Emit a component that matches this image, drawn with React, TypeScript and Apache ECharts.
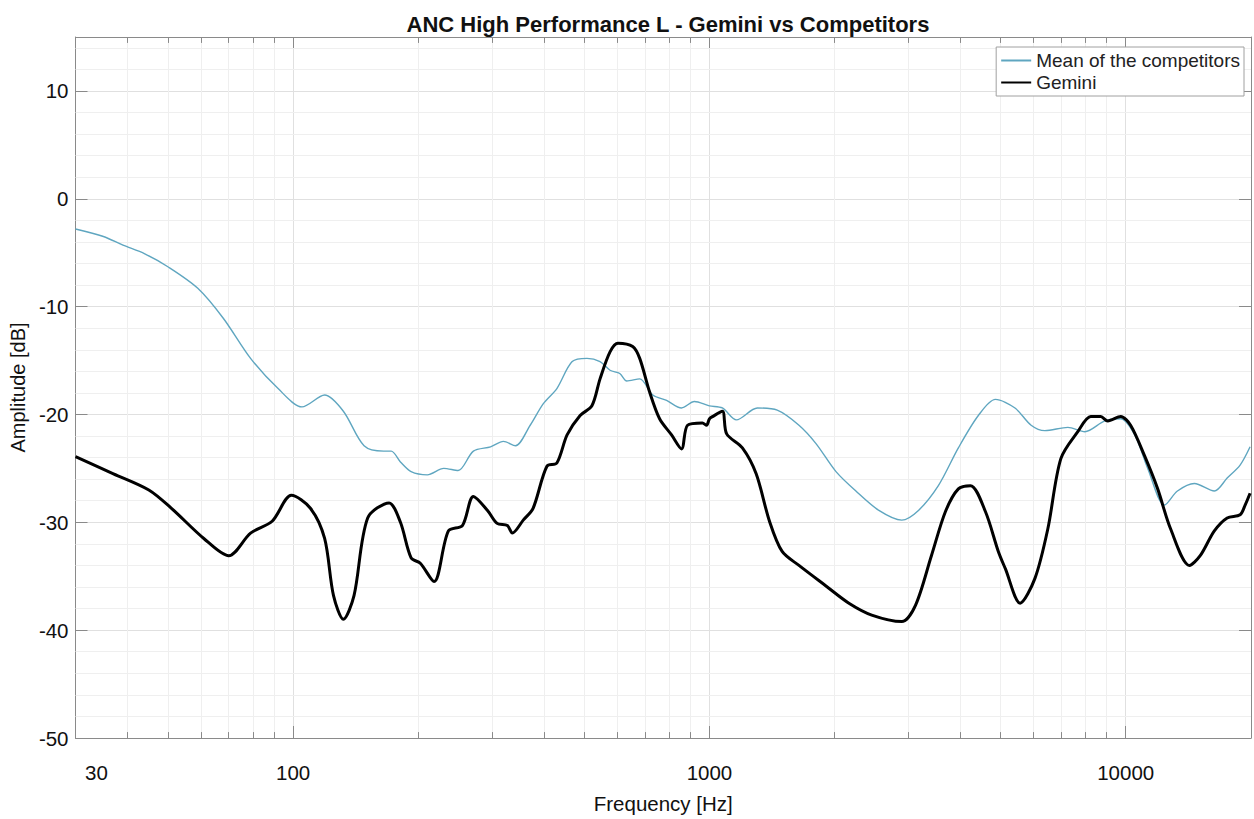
import React, { useEffect, useRef } from "react";
import * as echarts from "echarts";

const titleText = "ANC High Performance L - Gemini vs Competitors";
const seriesNames = ["Mean of the competitors", "Gemini"];
const xTickLabels = [30, 100, 1000, 10000];

const meanFreq = [30, 35, 39, 44, 50, 59, 68, 79, 92, 105, 119, 132, 148, 165, 172, 181, 192, 210, 230, 249, 271, 298, 320, 342, 371, 399, 430, 468, 508, 546, 577, 609, 633, 680, 731, 789, 857, 920, 1000, 1074, 1161, 1303, 1455, 1641, 1803, 2014, 2248, 2553, 2897, 3178, 3548, 3963, 4426, 4864, 5421, 5926, 6397, 7262, 7980, 8909, 9728, 10514, 11297, 12393, 13314, 14622, 16330, 17530, 18830, 19900];
const meanDb = [-2.8, -3.5, -4.3, -5.1, -6.3, -8.3, -11.1, -14.8, -17.6, -19.3, -18.2, -19.7, -22.9, -23.4, -23.4, -24.4, -25.3, -25.6, -25.0, -25.2, -23.4, -23.0, -22.5, -22.9, -21.0, -19.0, -17.6, -15.1, -14.8, -15.1, -15.9, -16.2, -16.9, -16.7, -18.2, -18.7, -19.4, -18.8, -19.2, -19.4, -20.5, -19.4, -19.6, -21.0, -22.7, -25.3, -27.1, -28.9, -29.8, -28.9, -26.6, -23.1, -20.1, -18.6, -19.4, -21.0, -21.5, -21.2, -21.6, -20.6, -20.4, -21.9, -25.0, -28.4, -27.1, -26.4, -27.1, -25.9, -24.7, -23.0];

const geminiFreq = [30, 37, 45, 51, 61, 70, 79, 89, 99, 110, 119, 125, 132, 140, 151, 170, 181, 192, 202, 218, 236, 255, 271, 293, 309, 327, 336, 357, 377, 407, 430, 455, 489, 522, 546, 577, 603, 654, 680, 718, 759, 811, 857, 886, 962, 984, 1000, 1017, 1074, 1100, 1200, 1295, 1394, 1495, 1641, 1905, 2163, 2454, 2897, 3126, 3414, 3690, 3963, 4237, 4602, 4943, 5139, 5576, 6053, 6501, 6986, 7673, 8242, 8710, 9055, 9728, 10275, 11090, 11935, 12817, 14230, 15100, 16330, 17530, 18830, 19360, 19900];
const geminiDb = [-23.9, -25.5, -27.0, -28.7, -31.5, -33.1, -31.0, -29.9, -27.5, -28.7, -31.5, -36.8, -39.0, -36.8, -29.6, -28.2, -30.0, -33.3, -33.8, -35.5, -30.8, -30.3, -27.6, -28.9, -30.1, -30.3, -31.0, -29.8, -28.7, -24.8, -24.5, -21.9, -20.1, -19.2, -16.7, -14.2, -13.4, -13.7, -14.8, -17.9, -20.4, -21.9, -23.2, -21.0, -20.8, -21.0, -20.4, -20.2, -19.7, -21.8, -23.1, -25.5, -29.9, -32.7, -34.0, -35.9, -37.5, -38.6, -39.2, -37.7, -33.1, -29.0, -26.9, -26.6, -29.0, -32.7, -34.3, -37.5, -35.2, -30.6, -24.1, -21.6, -20.2, -20.2, -20.6, -20.2, -21.0, -23.8, -26.9, -30.6, -34.0, -33.1, -30.8, -29.6, -29.3, -28.4, -27.3];

const minorFreqs = [40, 50, 60, 70, 80, 90, 200, 300, 400, 500, 600, 700, 800, 900, 2000, 3000, 4000, 5000, 6000, 7000, 8000, 9000];
const minorDb = [-48, -46, -44, -42, -38, -36, -34, -32, -28, -26, -24, -22, -18, -16, -14, -12, -8, -6, -4, -2, 2, 4, 6, 8, 12, 14];

const Y_MIN = -50;
const Y_MAX = 15;
const X_MIN = 30;
const X_MAX = 20000;

const FONT = "'Liberation Sans', Arial, sans-serif";
const AXIS_COLOR = "#8a8a8a";
const MEAN_COLOR = "#5fa6c0";

export default function App() {
  const ref = useRef<HTMLDivElement>(null);

  useEffect(() => {
    if (!ref.current) return;
    const chart = echarts.init(ref.current, undefined, { renderer: "svg" });

    const meanData = meanFreq.map((f, i) => [f, meanDb[i]]);
    const geminiData = geminiFreq.map((f, i) => [f, geminiDb[i]]);

    const minorGridLines = [
      ...minorFreqs.map((f) => ({ xAxis: f })),
      ...minorDb.map((d) => ({ yAxis: d })),
    ];
    const minorTickSegs: any[] = [];
    minorFreqs.forEach((f) => {
      minorTickSegs.push([{ coord: [f, Y_MIN] }, { coord: [f, Y_MIN + 0.55] }]);
      minorTickSegs.push([{ coord: [f, Y_MAX] }, { coord: [f, Y_MAX - 0.55] }]);
    });

    const commonX = {
      type: "log",
      logBase: 10,
      min: X_MIN,
      max: X_MAX,
    };
    const commonY = {
      type: "value",
      min: Y_MIN,
      max: Y_MAX,
      interval: 10,
    };

    chart.setOption({
      animation: false,
      backgroundColor: "#ffffff",
      textStyle: { fontFamily: FONT },
      title: {
        text: titleText,
        left: 663,
        textAlign: "center",
        top: 8,
        textStyle: { fontSize: 22, fontWeight: "bold", color: "#111", fontFamily: FONT },
      },
      legend: {
        orient: "vertical",
        right: 10,
        top: 47,
        itemWidth: 30,
        itemHeight: 14,
        itemGap: 3,
        padding: [4, 4, 4, 4],
        borderColor: "#a0a0a0",
        borderWidth: 1,
        backgroundColor: "#ffffff",
        itemStyle: { opacity: 0 },
        textStyle: { fontSize: 19, color: "#222", fontFamily: FONT },
        data: seriesNames,
      },
      grid: { left: 74, right: 2, top: 37, bottom: 79, containLabel: false },
      xAxis: [
        {
          ...commonX,
          position: "bottom",
          name: "Frequency [Hz]",
          nameLocation: "middle",
          nameGap: 55,
          nameTextStyle: { fontSize: 20.5, color: "#111", fontFamily: FONT },
          axisLine: { show: true, onZero: false, lineStyle: { color: AXIS_COLOR, width: 1 } },
          axisTick: { show: true, inside: true, length: 12, lineStyle: { color: AXIS_COLOR } },
          axisLabel: {
            margin: 24,
            fontSize: 20.5,
            color: "#111",
            fontFamily: FONT,
            formatter: (v: number) => {
              const r = Math.round(v);
              if (!xTickLabels.includes(r)) return "";
              if (r === X_MIN) return "{m|" + r + "}";
              return String(r);
            },
            rich: { m: { fontSize: 20.5, color: "#111", fontFamily: FONT, padding: [0, 0, 0, 42] } },
          },
          splitLine: { show: true, lineStyle: { color: "#e0e0e0", width: 1 } },
        },
        {
          ...commonX,
          position: "top",
          axisLine: { show: true, onZero: false, lineStyle: { color: AXIS_COLOR, width: 1 } },
          axisTick: { show: true, inside: true, length: 12, lineStyle: { color: AXIS_COLOR } },
          axisLabel: { show: false },
          splitLine: { show: false },
        },
      ],
      yAxis: [
        {
          ...commonY,
          position: "left",
          name: "Amplitude [dB]",
          nameLocation: "middle",
          nameGap: 42,
          nameTextStyle: { fontSize: 20, color: "#111", fontFamily: FONT },
          axisLine: { show: true, onZero: false, lineStyle: { color: AXIS_COLOR, width: 1 } },
          axisTick: { show: true, inside: true, length: 12, lineStyle: { color: AXIS_COLOR } },
          axisLabel: {
            margin: 7,
            fontSize: 20.5,
            color: "#111",
            fontFamily: FONT,
            formatter: (v: number) => (v === Y_MAX ? "" : String(v)),
          },
          splitLine: { show: true, lineStyle: { color: "#e0e0e0", width: 1 } },
        },
        {
          ...commonY,
          position: "right",
          axisLine: { show: true, onZero: false, lineStyle: { color: AXIS_COLOR, width: 1 } },
          axisTick: { show: true, inside: true, length: 12, lineStyle: { color: AXIS_COLOR } },
          axisLabel: { show: false },
          splitLine: { show: false },
        },
      ],
      series: [
        {
          name: "minor-grid",
          type: "line",
          xAxisIndex: 0,
          yAxisIndex: 0,
          data: [],
          silent: true,
          z: 1,
          markLine: {
            silent: true,
            symbol: "none",
            z: 1,
            label: { show: false },
            lineStyle: { color: "#efefef", width: 1, type: "solid" },
            emphasis: { disabled: true },
            data: minorGridLines,
          },
        },
        {
          name: "minor-ticks",
          type: "line",
          xAxisIndex: 0,
          yAxisIndex: 0,
          data: [],
          silent: true,
          z: 1,
          markLine: {
            silent: true,
            symbol: "none",
            z: 2,
            label: { show: false },
            lineStyle: { color: AXIS_COLOR, width: 1, type: "solid" },
            emphasis: { disabled: true },
            data: minorTickSegs,
          },
        },
        {
          name: seriesNames[0],
          type: "line",
          xAxisIndex: 0,
          yAxisIndex: 0,
          data: meanData,
          symbol: "none",
          smooth: 0.3,
          z: 3,
          color: MEAN_COLOR,
          lineStyle: { color: MEAN_COLOR, width: 1.4 },
        },
        {
          name: seriesNames[1],
          type: "line",
          xAxisIndex: 0,
          yAxisIndex: 0,
          data: geminiData,
          symbol: "none",
          smooth: 0.3,
          z: 4,
          color: "#000000",
          lineStyle: { color: "#000000", width: 3 },
        },
      ],
    });

    return () => {
      chart.dispose();
    };
  }, []);

  return (
    <div
      ref={ref}
      style={{ position: "fixed", left: 0, top: 0, width: 1254, height: 819, background: "#fff" }}
    />
  );
}
